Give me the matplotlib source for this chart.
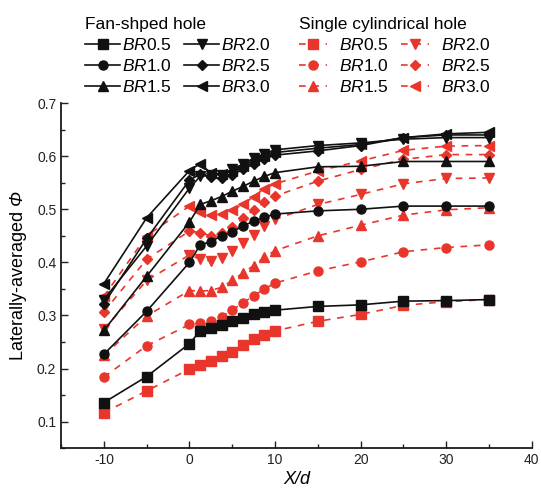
import matplotlib
matplotlib.use("Agg")
import matplotlib.pyplot as plt
from matplotlib.ticker import MultipleLocator

plt.rcParams['font.family'] = ['Liberation Sans', 'DejaVu Sans']
plt.rcParams['mathtext.fontset'] = 'custom'
# math text is only used for italic symbols (BR, Phi)
plt.rcParams['mathtext.rm'] = 'Liberation Sans:italic'
plt.rcParams['mathtext.it'] = 'Liberation Sans:italic'
plt.rcParams['axes.unicode_minus'] = False

# streamwise positions X/d
x = [-10, -5, 0, 1.25, 2.5, 3.75, 5, 6.25, 7.5, 8.75, 10, 15, 20, 25, 30, 35]

# fan-shaped hole
fan_br05 = [0.136, 0.185, 0.247, 0.271, 0.276, 0.282, 0.289, 0.296, 0.302, 0.307, 0.310, 0.317, 0.320, 0.327, 0.328, 0.330]
fan_br10 = [0.227, 0.308, 0.400, 0.433, 0.439, 0.450, 0.457, 0.469, 0.477, 0.485, 0.491, 0.497, 0.500, 0.506, 0.506, 0.506]
fan_br15 = [0.272, 0.374, 0.476, 0.509, 0.516, 0.524, 0.534, 0.543, 0.553, 0.562, 0.569, 0.580, 0.581, 0.590, 0.590, 0.590]
fan_br20 = [0.330, 0.431, 0.540, 0.562, 0.565, 0.565, 0.575, 0.585, 0.596, 0.605, 0.612, 0.620, 0.625, 0.632, 0.635, 0.635]
fan_br25 = [0.322, 0.445, 0.555, 0.566, 0.560, 0.558, 0.565, 0.575, 0.585, 0.595, 0.602, 0.610, 0.620, 0.635, 0.640, 0.640]
fan_br30 = [0.360, 0.484, 0.573, 0.586, 0.568, 0.566, 0.572, 0.582, 0.592, 0.600, 0.607, 0.615, 0.622, 0.635, 0.642, 0.645]

# single cylindrical hole
cyl_br05 = [0.117, 0.158, 0.199, 0.207, 0.214, 0.223, 0.232, 0.244, 0.256, 0.263, 0.271, 0.289, 0.302, 0.319, 0.326, 0.330]
cyl_br10 = [0.184, 0.243, 0.283, 0.285, 0.290, 0.298, 0.310, 0.324, 0.337, 0.350, 0.361, 0.384, 0.401, 0.420, 0.428, 0.433]
cyl_br15 = [0.225, 0.299, 0.347, 0.346, 0.347, 0.353, 0.366, 0.380, 0.394, 0.410, 0.422, 0.450, 0.470, 0.489, 0.499, 0.503]
cyl_br20 = [0.274, 0.366, 0.414, 0.406, 0.403, 0.409, 0.421, 0.436, 0.452, 0.468, 0.481, 0.509, 0.528, 0.548, 0.558, 0.559]
cyl_br25 = [0.307, 0.406, 0.459, 0.456, 0.450, 0.455, 0.467, 0.483, 0.499, 0.513, 0.525, 0.553, 0.575, 0.594, 0.603, 0.603]
cyl_br30 = [0.336, 0.450, 0.506, 0.494, 0.489, 0.491, 0.499, 0.509, 0.524, 0.539, 0.548, 0.572, 0.591, 0.611, 0.619, 0.620]

labels = ['0.5', '1.0', '1.5', '2.0', '2.5', '3.0']
markers = ['s', 'o', '^', 'v', 'D', '<']
fan = [fan_br05, fan_br10, fan_br15, fan_br20, fan_br25, fan_br30]
cyl = [cyl_br05, cyl_br10, cyl_br15, cyl_br20, cyl_br25, cyl_br30]

red = '#e8362c'
black = '#111111'

fig = plt.figure(figsize=(5.41, 4.98), dpi=100)
ax = fig.add_axes([0.113, 0.100, 0.870, 0.693])

h_fan, h_cyl = [], []
for ys, m, lab in zip(cyl, markers, labels):
    ms = 5.5 if m == 'D' else 6.5
    l, = ax.plot(x, ys, color=red, ls=(0, (4, 4)), lw=1.2, marker=m, ms=ms,
                 mec=red, mfc=red, label=r'$BR$' + lab)
    h_cyl.append(l)
for ys, m, lab in zip(fan, markers, labels):
    ms = 5.5 if m == 'D' else 6.5
    l, = ax.plot(x, ys, color=black, ls='-', lw=1.2, marker=m, ms=ms,
                 mec=black, mfc=black, label=r'$BR$' + lab)
    h_fan.append(l)

ax.set_xlim(-15, 40)
ax.set_ylim(0.05, 0.7)
ax.xaxis.set_major_locator(MultipleLocator(10))
ax.xaxis.set_minor_locator(MultipleLocator(5))
ax.yaxis.set_major_locator(MultipleLocator(0.1))
ax.yaxis.set_minor_locator(MultipleLocator(0.05))
ax.tick_params(which='both', direction='in', labelsize=10, width=1, colors='#222222')
ax.tick_params(which='major', length=5)
ax.tick_params(which='minor', length=3)
ax.set_xticks([-10, 0, 10, 20, 30, 40])
ax.set_yticks([0.1, 0.2, 0.3, 0.4, 0.5, 0.6, 0.7])
ax.set_yticklabels(['0.1', '0.2', '0.3', '0.4', '0.5', '0.6', '0.7'])
for s in ['top', 'right']:
    ax.spines[s].set_visible(False)
for s in ['left', 'bottom']:
    ax.spines[s].set_linewidth(1.3)
    ax.spines[s].set_color('#1a1a1a')

ax.set_xlabel('X/d', fontsize=13, style='italic', labelpad=3)
ax.set_ylabel(r'Laterally-averaged $\Phi$', fontsize=13, labelpad=6)

leg1 = fig.legend(handles=h_fan, ncol=2, frameon=False, title='Fan-shped hole',
                  loc='upper left', bbox_to_anchor=(0.135, 0.99), fontsize=12.5,
                  title_fontsize=12.5, handlelength=2.0, handletextpad=0.1,
                  columnspacing=0.75, labelspacing=0.28, alignment='left',
                  borderpad=0.2)
leg2 = fig.legend(handles=h_cyl, ncol=2, frameon=False, title='Single cylindrical hole',
                  loc='upper left', bbox_to_anchor=(0.53, 0.99), fontsize=12.5,
                  title_fontsize=12.5, handlelength=1.6, handletextpad=0.7,
                  columnspacing=0.75, labelspacing=0.28, alignment='left',
                  borderpad=0.2)

fig.savefig('out.png', dpi=100)
